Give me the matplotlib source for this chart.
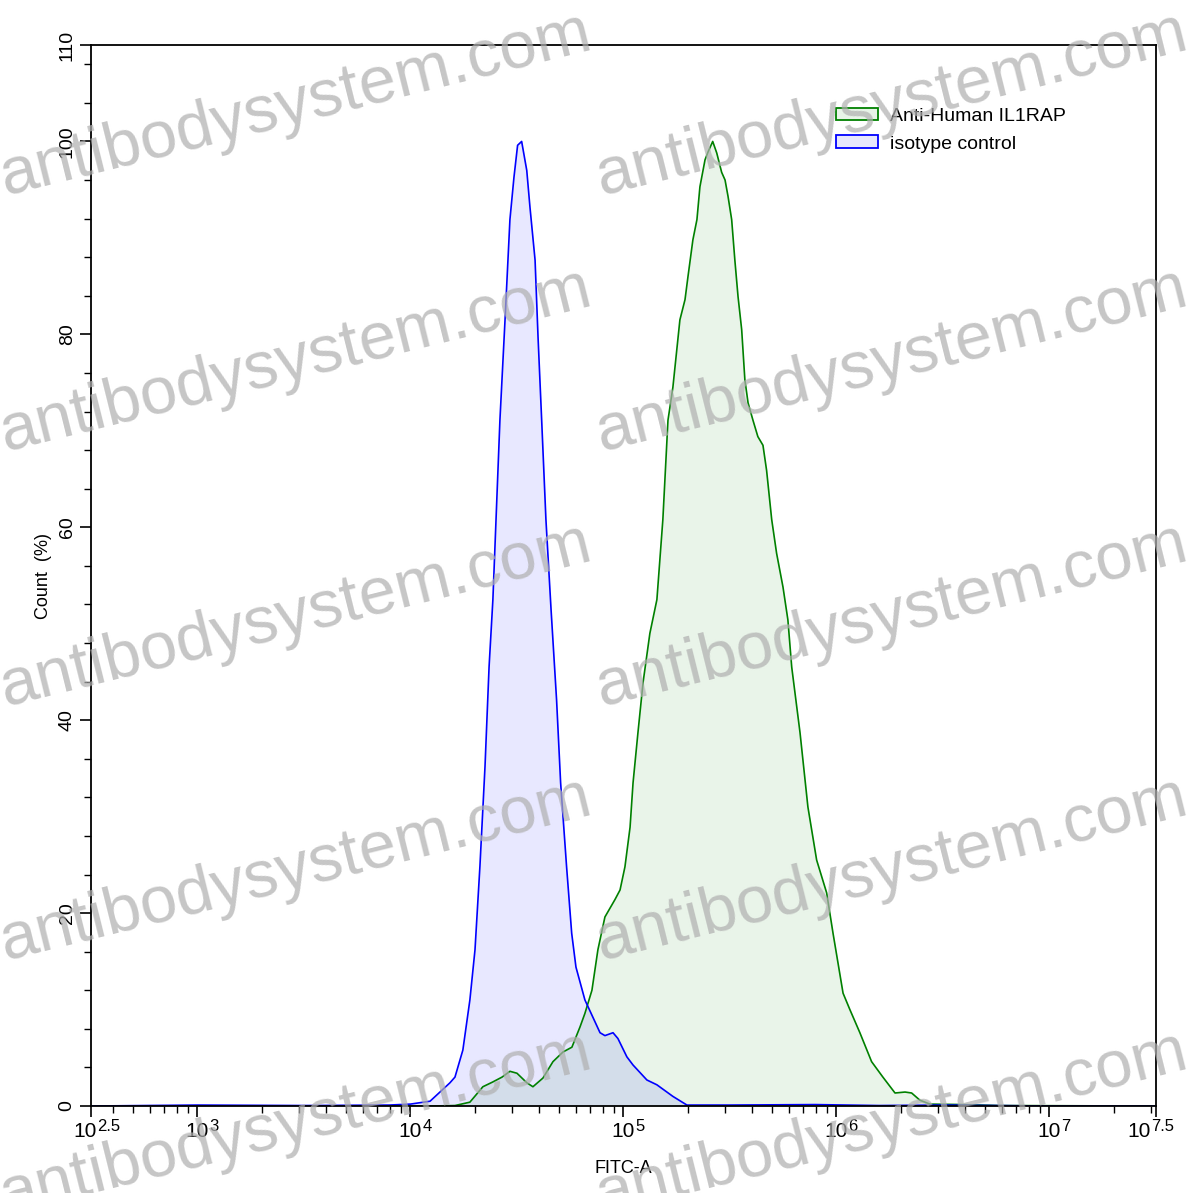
import numpy as np
import matplotlib
matplotlib.use('Agg')
import matplotlib.pyplot as plt
from matplotlib.patches import Patch
from matplotlib.ticker import FixedLocator, NullFormatter

plt.rcParams['font.family'] = ['Liberation Sans', 'DejaVu Sans']

# data: x as log10(FITC-A), y as Count (%)
iso_log = [2.5, 3.0, 3.5, 3.9, 4.0, 4.092, 4.185, 4.209, 4.246, 4.279, 4.303, 4.326, 4.350,
           4.369, 4.387, 4.420, 4.444, 4.467, 4.486, 4.503, 4.522, 4.546, 4.561, 4.585,
           4.599, 4.616, 4.636, 4.660, 4.686, 4.705, 4.733, 4.757, 4.777, 4.819, 4.890,
           4.913, 4.951, 4.974, 5.016, 5.045, 5.110, 5.157, 5.232, 5.298, 5.5, 5.9, 6.2,
           6.5, 7.0, 7.5]
iso_count = [0, 0.1, 0.05, 0.1, 0.2, 0.5, 2.4, 3.0, 5.8, 11, 16.2, 24.8, 35.2,
             45.5, 52.5, 71.1, 81.5, 91.9, 96.3, 99.6, 100, 97, 93.2, 87.7,
             79.7, 71.1, 60.8, 51.5, 42.1, 33.5, 24.8, 17.9, 14.4, 11, 7.6,
             7.3, 7.6, 7.0, 5.1, 4.25, 2.7, 2.2, 1.0, 0.1, 0.1, 0.15, 0.05,
             0.1, 0.0, 0.0]

il1rap_log = [2.5, 4.1, 4.209, 4.279, 4.340, 4.387, 4.430, 4.467, 4.500, 4.547, 4.575, 4.622,
              4.669, 4.716, 4.758, 4.796, 4.819, 4.852, 4.880, 4.913, 4.960, 4.984, 5.007,
              5.031, 5.045, 5.068, 5.092, 5.124, 5.157, 5.185, 5.209, 5.232, 5.265, 5.289,
              5.303, 5.326, 5.345, 5.359, 5.383, 5.397, 5.419, 5.438, 5.461, 5.477, 5.491,
              5.508, 5.523, 5.538, 5.555, 5.570, 5.585, 5.608, 5.631, 5.655, 5.672, 5.696,
              5.719, 5.749, 5.772, 5.790, 5.829, 5.866, 5.907, 5.954, 5.984, 6.031, 6.063,
              6.110, 6.165, 6.218, 6.275, 6.322, 6.353, 6.392, 6.439, 6.594, 6.768, 7.5]
il1rap_count = [0, 0, 0.05, 0.4, 2.0, 2.5, 3.0, 3.6, 3.4, 2.4, 2.0, 2.9,
                4.6, 5.6, 6.1, 8.2, 9.6, 12, 16.2, 19.6, 21.4, 22.4, 24.8,
                28.9, 33.5, 38.7, 43.9, 49, 52.5, 60.8, 71.1, 74.5, 81.5, 83.6,
                86, 89.8, 91.9, 95.3, 98.1, 98.9, 100, 98.8, 96.8, 96, 94.3,
                91.9, 87.7, 83.9, 80.5, 75.3, 72.9, 71.1, 69.4, 68.5, 65.9, 60.8,
                57.3, 53.8, 50.4, 45.5, 38.7, 31, 25.5, 22.1, 17.9, 11.7, 10,
                7.6, 4.6, 3.0, 1.35, 1.45, 1.35, 0.6, 0.2, 0.15, 0.05, 0]

series_names = ['Anti-Human IL1RAP', 'isotype control']
x_tick_exps = ['2.5', '3', '4', '5', '6', '7', '7.5']
x_label_shift = [-4, 0, 0, 0, 0, 0, -12]   # points, edge labels pulled inwards
y_ticks = [0, 20, 40, 60, 80, 100, 110]

fig = plt.figure(figsize=(11.97, 11.93), dpi=100)
ax = fig.add_axes([0.0760, 0.0729, 0.8897, 0.8894])

x_iso = 10 ** np.array(iso_log)
x_il = 10 ** np.array(il1rap_log)

ax.fill_between(x_il, il1rap_count, color='#008000', alpha=0.085, lw=0)
ax.fill_between(x_iso, iso_count, color='#0000ff', alpha=0.09, lw=0)
ax.plot(x_il, il1rap_count, color='#008000', lw=1.2)
ax.plot(x_iso, iso_count, color='#0000ff', lw=1.2)

ax.set_xscale('log')
ax.set_xlim(10 ** 2.5, 10 ** 7.5)
ax.set_ylim(0, 110)

# x tick labels drawn by hand: "10" plus a raised exponent
ax.xaxis.set_major_locator(FixedLocator([10 ** float(e) for e in x_tick_exps]))
ax.xaxis.set_major_formatter(NullFormatter())
for e, dx in zip(x_tick_exps, x_label_shift):
    xv = 10 ** float(e)
    ax.annotate('10', xy=(xv, 0), xycoords=('data', 'axes fraction'),
                xytext=(dx, -11.5), textcoords='offset points', ha='center', va='top',
                fontsize=15)
    ax.annotate(e, xy=(xv, 0), xycoords=('data', 'axes fraction'),
                xytext=(dx + 8.5, -9.5), textcoords='offset points', ha='left', va='top',
                fontsize=12)
minors = []
for d in range(2, 8):
    for m in range(2, 10):
        v = m * 10 ** d
        if 10 ** 2.5 < v < 10 ** 7.5:
            minors.append(v)
ax.xaxis.set_minor_locator(FixedLocator(minors))
ax.xaxis.set_minor_formatter(NullFormatter())

ax.set_yticks(y_ticks)
ax.set_yticklabels([str(v) for v in y_ticks], rotation=90, va='center')
ax.yaxis.set_minor_locator(FixedLocator([v for v in range(0, 110, 4) if v % 20 != 0]))

ax.tick_params(which='major', length=8, width=1.2, direction='out')
ax.tick_params(which='minor', length=5, width=1.0, direction='out')
ax.tick_params(axis='y', which='major', labelsize=14, pad=3)
for s in ax.spines.values():
    s.set_linewidth(1.3)

ax.set_xlabel('FITC-A', fontsize=13, labelpad=27)
ax.set_ylabel('Count  (%)', fontsize=13, labelpad=5)

handles = [Patch(facecolor='#e8f4e8', edgecolor='#008000', lw=1.3),
           Patch(facecolor='#e8e8fc', edgecolor='#0000ff', lw=1.3)]
ax.legend(handles, series_names, loc='upper left', bbox_to_anchor=(0.6995, 0.941),
          borderaxespad=0, borderpad=0, frameon=False, fontsize=14,
          handlelength=2.15, handleheight=0.62, handletextpad=0.65, labelspacing=0.55)

# watermark
for col in [0.004, 0.502]:
    for row in [0.836, 0.622, 0.408, 0.195, -0.018]:
        fig.text(col, row, 'antibodysystem.com', fontsize=48, color='#b0b0b0',
                 alpha=0.72, rotation=14, rotation_mode='anchor',
                 ha='left', va='baseline', zorder=10)

fig.savefig('out.png', dpi=100)
